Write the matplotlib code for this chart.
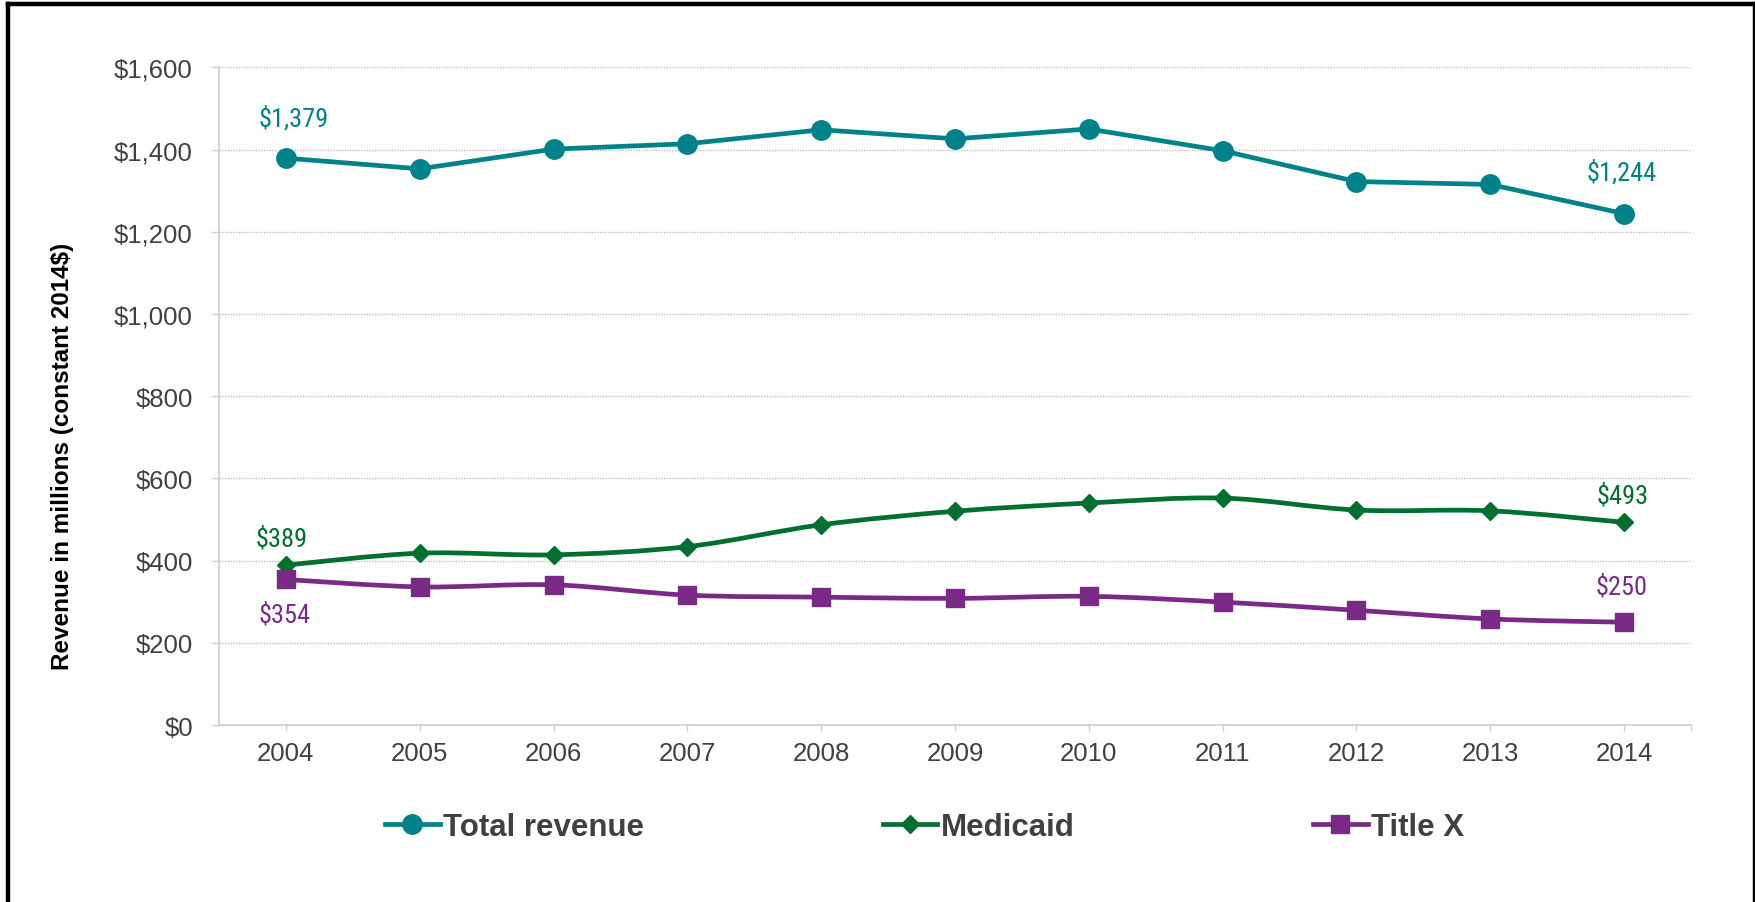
import matplotlib
matplotlib.use("Agg")
import matplotlib.pyplot as plt
import numpy as np
from matplotlib.path import Path
from matplotlib.patches import PathPatch
from matplotlib.lines import Line2D
from matplotlib.ticker import FuncFormatter

# data (millions, constant 2014$)
years = ['2004', '2005', '2006', '2007', '2008', '2009', '2010', '2011', '2012', '2013', '2014']
total_revenue = [1379, 1353, 1401, 1414, 1448, 1426, 1450, 1397, 1322, 1315, 1244]
medicaid = [389, 418, 414, 434, 487, 520, 540, 552, 523, 521, 493]
title_x = [354, 336, 341, 316, 311, 308, 313, 299, 279, 258, 250]

series_names = ['Total revenue', 'Medicaid', 'Title X']
y_ticks = [0, 200, 400, 600, 800, 1000, 1200, 1400, 1600]

TEAL = '#00828A'
GREEN = '#006F2F'
PURPLE = '#7A2A86'
GRID = '#BFBFBF'
AXIS = '#D0D0D0'
TXT = '#404040'

plt.rcParams['font.family'] = ['Liberation Sans', 'DejaVu Sans']
LABEL_FONT = ['Liberation Sans Narrow', 'Roboto Condensed', 'Liberation Sans', 'DejaVu Sans']

LW = 3.4


def smooth_path(x, y):
    # excel-style smoothed line as cubic bezier segments
    pts = np.column_stack([x, y]).astype(float)
    n = len(pts)
    verts = [pts[0]]
    codes = [Path.MOVETO]
    for i in range(n - 1):
        p0 = pts[max(i - 1, 0)]
        p1 = pts[i]
        p2 = pts[i + 1]
        p3 = pts[min(i + 2, n - 1)]
        verts += [p1 + (p2 - p0) / 6, p2 - (p3 - p1) / 6, p2]
        codes += [Path.CURVE4] * 3
    return Path(verts, codes)


fig = plt.figure(figsize=(17.56, 9.03), dpi=100)
ax = fig.add_axes([219 / 1756, 1 - 726 / 903, (1691 - 219) / 1756, (726 - 68.3) / 903])

x = np.arange(len(years))

# total revenue: straight segments
ax.plot(x, total_revenue, color=TEAL, lw=LW, marker='o', markersize=14,
        solid_joinstyle='round', zorder=4)

# medicaid and title x: smoothed lines
ax.add_patch(PathPatch(smooth_path(x, medicaid), fill=False, edgecolor=GREEN,
                       lw=LW, joinstyle='round', capstyle='round', zorder=3))
ax.plot(x, medicaid, linestyle='none', marker='D', markersize=9.5, color=GREEN, zorder=4)
ax.add_patch(PathPatch(smooth_path(x, title_x), fill=False, edgecolor=PURPLE,
                       lw=LW, joinstyle='round', capstyle='round', zorder=3))
ax.plot(x, title_x, linestyle='none', marker='s', markersize=12.8, color=PURPLE, zorder=4)

# end point labels
def fmt(v):
    return f"${v:,.0f}"

labels = [
    (0, total_revenue[0], TEAL, (6, 29)),
    (10, total_revenue[-1], TEAL, (-2, 30)),
    (0, medicaid[0], GREEN, (-3, 19)),
    (10, medicaid[-1], GREEN, (-1, 19.5)),
    (0, title_x[0], PURPLE, (-1, -25)),
    (10, title_x[-1], PURPLE, (-2, 26)),
]
for xi, v, c, off in labels:
    ax.annotate(fmt(v), (xi, v), xytext=off, textcoords='offset points',
                ha='center', va='center', color=c, fontsize=19, family=LABEL_FONT)

# axes styling
ax.set_xlim(-0.5, len(years) - 0.5)
ax.set_ylim(0, 1600)
ax.set_xticks(x)
ax.set_xticklabels(years)
ax.set_xticks([len(years) - 0.5], minor=True)
ax.set_yticks(y_ticks)
ax.yaxis.set_major_formatter(FuncFormatter(lambda v, p: f"${v:,.0f}"))
ax.yaxis.grid(True, linestyle=(0, (1, 1)), color=GRID, lw=1)
ax.set_axisbelow(True)
for s in ['top', 'right']:
    ax.spines[s].set_visible(False)
for s in ['left', 'bottom']:
    ax.spines[s].set_color(AXIS)
    ax.spines[s].set_linewidth(1.3)
ax.tick_params(axis='y', length=5.8, width=1, color=AXIS, labelsize=18.5, labelcolor=TXT, pad=13)
ax.tick_params(axis='x', which='both', length=4.3, width=1, color=AXIS, labelsize=18.5,
               labelcolor=TXT, pad=7.5)

fig.text(63 / 1756, 1 - 456 / 903, 'Revenue in millions (constant 2014$)', rotation=90,
         ha='center', va='center', fontsize=17.5, fontweight='bold', color='black')

# legend
handles = [
    Line2D([], [], color=TEAL, lw=LW, marker='o', markersize=14),
    Line2D([], [], color=GREEN, lw=LW, marker='D', markersize=9.5),
    Line2D([], [], color=PURPLE, lw=LW, marker='s', markersize=12.8),
]
fig.legend(handles, series_names, loc='center left', bbox_to_anchor=(385 / 1756, 1 - 828 / 903),
           ncol=3, frameon=False, prop={'size': 22.5, 'weight': 'bold'}, labelcolor=TXT,
           handlelength=1.75, handletextpad=0.12, columnspacing=7.62, borderpad=0, borderaxespad=0)

# outer frame
for xs, ys in [([8, 8], [-10, 5]), ([8, 1755], [5, 5]), ([1755, 1755], [5, -10])]:
    fig.add_artist(Line2D([v / 1756 for v in xs], [1 - v / 903 if v >= 0 else 0 for v in ys],
                          transform=fig.transFigure, color='black', lw=3.2, solid_capstyle='projecting'))

fig.savefig('out.png', dpi=100, facecolor='white')
